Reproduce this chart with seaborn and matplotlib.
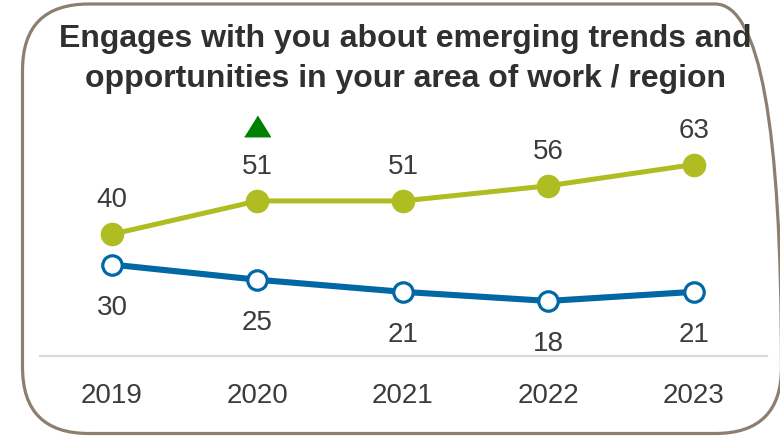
import matplotlib
matplotlib.use("Agg")
import matplotlib.pyplot as plt
import matplotlib.transforms as mtransforms
from matplotlib.patches import FancyBboxPatch
import pandas as pd
import seaborn as sns

years = ["2019", "2020", "2021", "2022", "2023"]
agree = [40, 51, 51, 56, 63]
disagree = [30, 25, 21, 18, 21]
agree_up = [False, True, False, False, False]
title_lines = ["Engages with you about emerging trends and",
               "opportunities in your area of work / region"]

GREEN = "#afbd22"
BLUE = "#0068a4"
TEXT = "#3c3c3c"
TITLE = "#303030"
BORDER = "#8c7f70"

sns.set_theme(style="white")
plt.rcParams["font.family"] = ["Liberation Sans", "DejaVu Sans"]

W, H = 780, 438
fig = plt.figure(figsize=(W / 100, H / 100), dpi=100)

# rounded frame around the whole card
frame = FancyBboxPatch((22.5 / W, 4.5 / H), 759 / W, 429.5 / H,
                       boxstyle="round,pad=0,rounding_size=0.085",
                       transform=fig.transFigure, fill=False,
                       edgecolor=BORDER, linewidth=2.3, clip_on=False,
                       mutation_aspect=W / H)
fig.patches.append(frame)

for line, base in zip(title_lines, [46.5, 87]):
    fig.text(405 / W, 1 - base / H, line, ha="center", va="baseline",
             fontsize=23, fontweight="bold", color=TITLE)

ax = fig.add_axes([40 / W, (H - 355.5) / H, (767 - 40) / W, (355.5 - 110) / H])
x = list(range(len(years)))
df = pd.DataFrame({"x": x, "agree": agree, "disagree": disagree})

sns.lineplot(data=df, x="x", y="agree", ax=ax, color=GREEN, linewidth=3.6,
             marker="o", markersize=17, markerfacecolor=GREEN,
             markeredgecolor=GREEN, markeredgewidth=0, clip_on=False)
sns.lineplot(data=df, x="x", y="disagree", ax=ax, color=BLUE, linewidth=4.4,
             marker="o", markersize=14, markerfacecolor="white",
             markeredgecolor=BLUE, markeredgewidth=2.3, clip_on=False)

ax.set_xlim(-0.495, 4.503)
ax.set_ylim(0, 81)

for xi, v in zip(x, agree):
    ax.annotate(f"{v}", (xi, v), xytext=(0, 19.4), textcoords="offset points",
                ha="center", va="baseline", fontsize=20, color=TEXT)
for xi, v in zip(x, disagree):
    ax.annotate(f"{v}", (xi, v), xytext=(0, -36), textcoords="offset points",
                ha="center", va="baseline", fontsize=20, color=TEXT)

# significance triangles above the agree labels
tri = [(-1, -0.8), (1, -0.8), (0, 0.8)]
up_trans = mtransforms.offset_copy(ax.transData, fig=fig, x=0, y=75, units="dots")
for xi, v, flag in zip(x, agree, agree_up):
    if flag:
        ax.plot([xi], [v], marker=tri, markersize=18.5, color="#008000",
                linestyle="none", transform=up_trans, clip_on=False)

ax.set_xticks(x)
ax.set_xticklabels(years, fontsize=20, color=TEXT)
ax.tick_params(axis="x", length=0, pad=19.5)
ax.set_yticks([])
ax.set_xlabel("")
ax.set_ylabel("")
for side in ["top", "right", "left"]:
    ax.spines[side].set_visible(False)
ax.spines["bottom"].set_color("#d9d9d9")
ax.spines["bottom"].set_linewidth(1.6)
ax.patch.set_alpha(0)

fig.savefig("out.png", dpi=100)
